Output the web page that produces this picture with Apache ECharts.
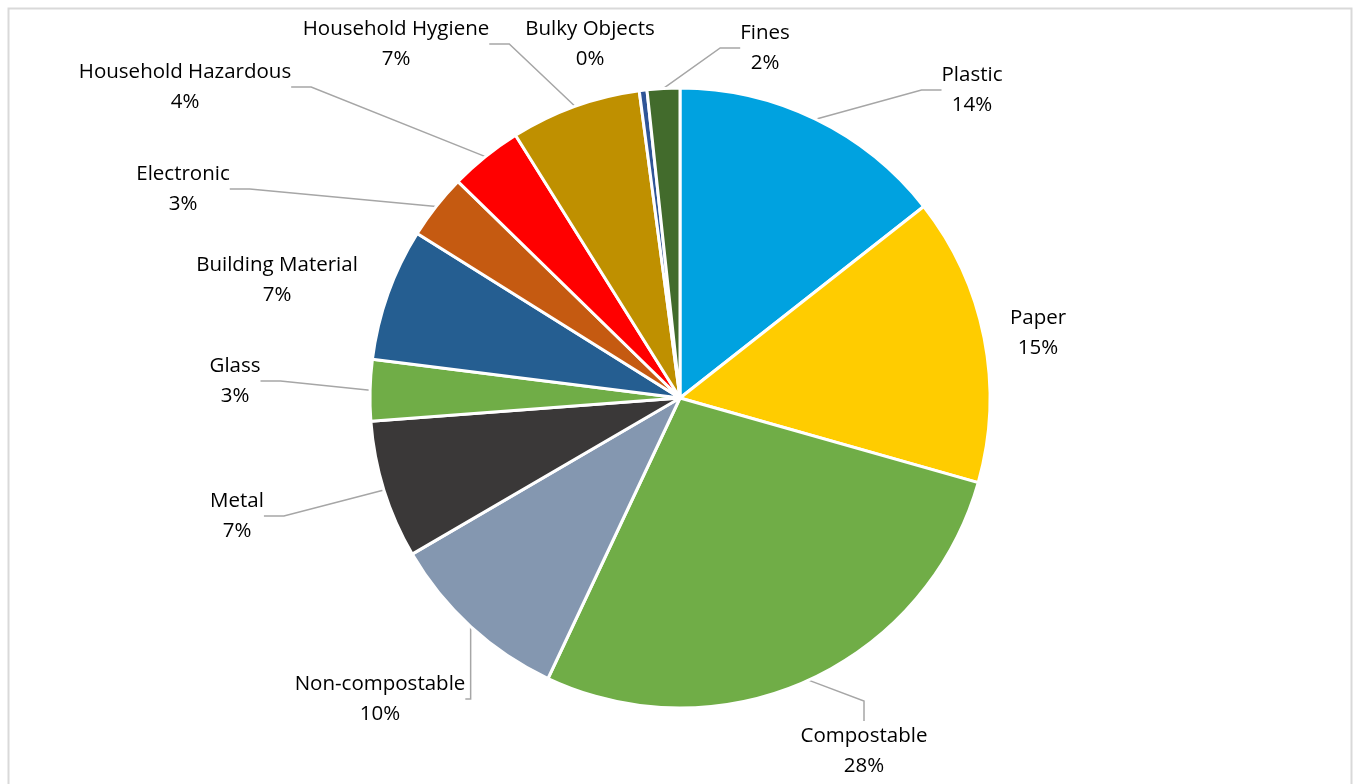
<!DOCTYPE html>
<html><head><meta charset="utf-8">
<script src="https://cdn.jsdelivr.net/npm/echarts@6/dist/echarts.min.js"></script>
<style>html,body{margin:0;padding:0;background:#fff;}#c{width:1353px;height:784px;}</style>
</head><body><div id="c"></div>
<script>
const categories = ['Plastic','Paper','Compostable','Non-compostable','Metal','Glass','Building Material','Electronic','Household Hazardous','Household Hygiene','Bulky Objects','Fines'];
const values = [14.4, 15.0, 27.6, 9.6, 7.2, 3.2, 6.9, 3.4, 3.8, 6.8, 0.4, 1.7];
const colors = ['#00A2E0','#FFCC00','#70AD47','#8497B0','#3A3838','#70AD47','#255E91','#C55A11','#FF0000','#BF9000','#2F5597','#426B2C'];
// label anchor (centre of text block) placement, as in the reference layout
const labelPos = [[972,90],[1038,333],[864,751],[380,699],[237,516],[235,381],[277,280],[183,189],[185,87],[396,44],[590,44],[765,48]];
const noLine = [1, 6, 10];

const chart = echarts.init(document.getElementById('c'));
chart.setOption({
  animation: false,
  graphic: [{type:'rect', shape:{x:8.5,y:8.5,width:1343,height:800}, style:{fill:'none', stroke:'#D9D9D9', lineWidth:2}, silent:true}],
  series: [{
    type: 'pie',
    center: [680, 398],
    radius: 310,
    startAngle: 90,
    clockwise: true,
    avoidLabelOverlap: false,
    data: categories.map((n,i)=>({name:n, value:values[i], itemStyle:{color:colors[i]},
      labelLine: {show: noLine.indexOf(i) < 0}})),
    itemStyle: {borderColor:'#fff', borderWidth:3},
    label: {
      show: true,
      position: 'outside',
      formatter: p => p.name + '\n' + Math.round(p.percent) + '%',
      fontFamily: 'Open Sans',
      fontSize: 20.5,
      lineHeight: 30,
      color: '#000'
    },
    labelLine: {show:true, length:25, length2:20, lineStyle:{color:'#A6A6A6', width:1.5}},
    labelLayout: function (params) {
      const p = labelPos[params.dataIndex];
      return {x: p[0], y: p[1], align: 'center', verticalAlign: 'middle'};
    },
    emphasis: {disabled:true}
  }]
});
</script></body></html>
